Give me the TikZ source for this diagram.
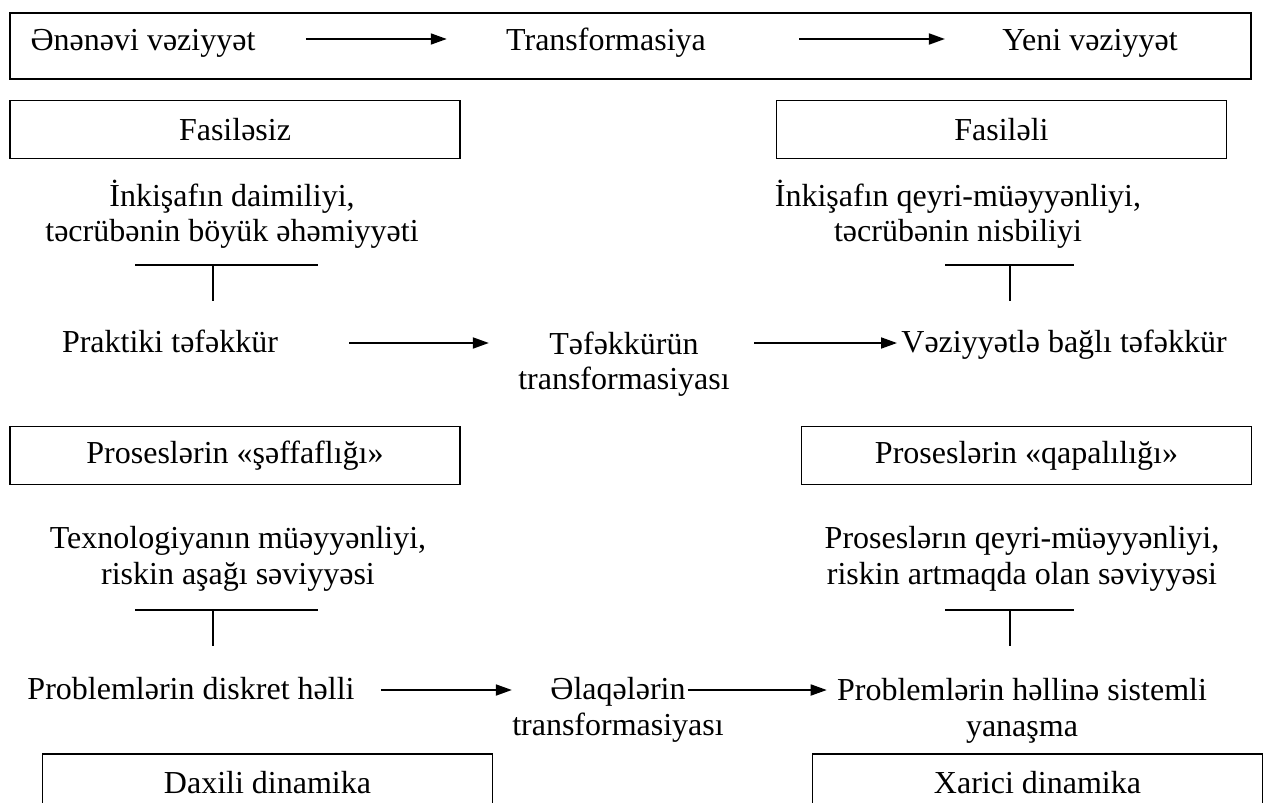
\documentclass[tikz,border=0pt]{standalone}
\usepackage{fontspec}
\setmainfont{Liberation Serif}
\usetikzlibrary{arrows.meta,positioning}

\begin{document}
\begin{tikzpicture}[x=0.5pt, y=-0.5pt,
        every node/.style={font=\fontsize{16}{17.75}\selectfont, inner sep=0pt},
        box/.style={draw, line width=0.9pt, minimum width=225pt, minimum height=29pt},
        txt/.style={text height=11pt, text depth=3.5pt},
        two/.style={align=center},
        arr/.style={line width=0.9pt, -{Triangle[length=8pt, width=5.5pt]}},
        bar/.style={line width=0.8pt}]
        \useasboundingbox (0, 0) rectangle (1264, 803);

        \begin{scope}
            % top row
            \node[box, minimum width=620.5pt, minimum height=33pt] (frame) at (630.5, 46) {};
            \node[txt] (old) at (143, 43) {Ənənəvi vəziyyət};
            \node[txt] (trans) at (606, 43) {Transformasiya};
            \node[txt] (new) at (1090, 43) {Yeni vəziyyət};
            % left and right columns
            \node[box] (fasilesiz) at (235, 129.5) {Fasiləsiz};
            \node[box] (fasileli) at (1001.5, 129.5) {Fasiləli};
            \node[two] (daimi) at (232, 214)
            {İnkişafın daimiliyi,\\təcrübənin böyük əhəmiyyəti};
            \node[two] (nisbi) at (958, 214)
            {İnkişafın qeyri-müəyyənliyi,\\təcrübənin nisbiliyi};
            \node[txt] (praktiki) at (170, 345) {Praktiki təfəkkür};
            \node[two] (tefekkur) at (624, 364)
            {Təfəkkürün\\transformasiyası};
            \node[txt] (situativ) at (1064, 345) {Vəziyyətlə bağlı təfəkkür};
            \node[box] (seffaf) at (235, 455.5) {Proseslərin «şəffaflığı»};
            \node[box] (qapali) at (1026.5, 455.5) {Proseslərin «qapalılığı»};
            \node[two] (texno) at (238, 559)
            {Texnologiyanın müəyyənliyi,\\riskin aşağı səviyyəsi};
            \node[two] (risk) at (1022, 559)
            {Proseslərın qeyri-müəyyənliyi,\\riskin artmaqda olan səviyyəsi};
            \node[txt] (diskret) at (191, 692) {Problemlərin diskret həlli};
            \node[txt] (elaqe) at (618, 692) {Əlaqələrin};
            \node[txt] (elaqeT) at (618, 728) {transformasiyası};
            \node[two] (sistem) at (1022, 711)
            {Problemlərin həllinə sistemli\\yanaşma};
            \node[box, anchor=north] (daxili) at (267.5, 753) {Daxili dinamika};
            \node[box, anchor=north] (xarici) at (1037.5, 753) {Xarici dinamika};
        \end{scope}

        % T bars
        \coordinate (t1l) at (135, 265); \coordinate (t1r) at (318, 265);
        \coordinate (t1) at (213, 265); \coordinate (s1) at (213, 301);
        \coordinate (t2l) at (945, 265); \coordinate (t2r) at (1074, 265);
        \coordinate (t2) at (1010, 265); \coordinate (s2) at (1010, 301);
        \coordinate (t3l) at (135, 610); \coordinate (t3r) at (318, 610);
        \coordinate (t3) at (213, 610); \coordinate (s3) at (213, 646);
        \coordinate (t4l) at (945, 610); \coordinate (t4r) at (1074, 610);
        \coordinate (t4) at (1010, 610); \coordinate (s4) at (1010, 646);

        \begin{scope}[bar]
            \draw (t1l) -- (t1r);
            \draw (t1) -- (s1);
            \draw (t2l) -- (t2r);
            \draw (t2) -- (s2);
            \draw (t3l) -- (t3r);
            \draw (t3) -- (s3);
            \draw (t4l) -- (t4r);
            \draw (t4) -- (s4);
        \end{scope}

        \begin{scope}[arr]
            \draw[shorten <=25pt, shorten >=29.5pt] ([yshift=2pt]old.east) -- ([yshift=2pt]trans.west);
            \draw[shorten <=46.5pt, shorten >=28.5pt] ([yshift=2pt]trans.east) -- ([yshift=2pt]new.west);
            \draw[shorten <=35.5pt, shorten >=14.5pt] ([yshift=1pt]praktiki.east) -- ([yshift=1pt]praktiki.east -| tefekkur.west);
            \draw[shorten <=12pt, shorten >=2pt] ([yshift=1pt]situativ.west -| tefekkur.east) -- ([yshift=1pt]situativ.west);
            \draw[shorten <=13pt] ([yshift=1pt]diskret.east) -- ([yshift=1pt]diskret.east -| elaqeT.west);
            \draw[shorten <=1pt, shorten >=5pt] ([yshift=1pt]elaqe.east) -- ([yshift=1pt]elaqe.east -| sistem.west);
        \end{scope}

\end{tikzpicture}
\end{document}
